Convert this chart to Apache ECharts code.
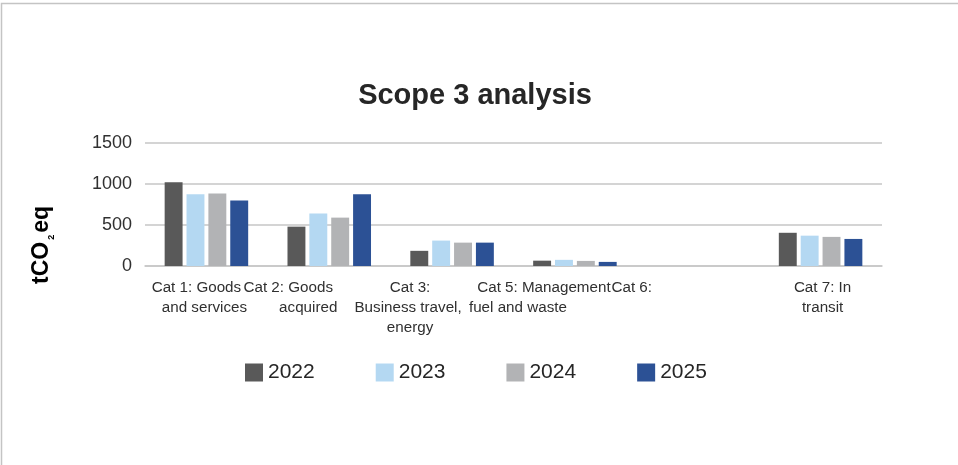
<!DOCTYPE html>
<html>
<head>
<meta charset="utf-8">
<style>html,body{margin:0;padding:0;background:#fff;}#c{width:958px;height:465px;}</style>
<script src="https://cdn.jsdelivr.net/npm/echarts@6/dist/echarts.min.js"></script>
</head>
<body>
<div id="c"></div>
<script>
// ---- data ----
var categories = [
  'Cat 1: Goods\nand services',
  'Cat 2: Goods\nacquired',
  'Cat 3:\nBusiness travel,\nenergy',
  'Cat 5: Management\nfuel and waste',
  'Cat 6:',
  'Cat 7: In\ntransit'
];
var seriesNames = ['2022', '2023', '2024', '2025'];
var v2022 = [1020, 480, 185, 65, 0, 405];
var v2023 = [875, 640, 310, 75, 0, 370];
var v2024 = [885, 590, 285, 62, 0, 355];
var v2025 = [800, 875, 285, 50, 0, 330];
var yTicks = [0, 500, 1000, 1500];

// ---- style ----
var colors = ['#595959', '#b4d8f2', '#b2b3b5', '#2c5195'];
var labelShift = [[-10, -2], [-41, -21], [-42, -44, -42], [-31, -57], [-66], [2, 2]];
var FONT = "'Liberation Sans', Arial, sans-serif";

var rich = {};
categories.forEach(function (c, i) {
  c.split('\n').forEach(function (t, j) {
    var s = labelShift[i][j] || 0;
    rich['l' + i + '_' + j] = {
      fontSize: 15.2, lineHeight: 20, color: '#303030', fontFamily: FONT,
      padding: s < 0 ? [0, -2 * s, 0, 0] : [0, 0, 0, 2 * s]
    };
  });
});

var allValues = [v2022, v2023, v2024, v2025];
var chart = echarts.init(document.getElementById('c'), null, {renderer: 'canvas'});
chart.setOption({
  animation: false,
  backgroundColor: '#ffffff',
  title: {
    text: 'Scope 3 analysis',
    left: 470, top: 76, textAlign: 'center',
    textStyle: {fontSize: 29, fontWeight: 'bold', color: '#262626', fontFamily: FONT}
  },
  legend: {
    data: seriesNames,
    left: 240, top: 357,
    itemWidth: 18, itemHeight: 18, itemGap: 61,
    icon: 'rect',
    textStyle: {fontSize: 21, color: '#262626', fontFamily: FONT}
  },
  grid: {left: 145, right: 76, top: 143, bottom: 199, containLabel: false},
  xAxis: {
    type: 'category',
    data: categories,
    axisTick: {show: false},
    axisLine: {lineStyle: {color: '#c6c6c6', width: 1.5}},
    axisLabel: {
      interval: 0, margin: 12, hideOverlap: false,
      formatter: function (value, index) {
        return value.split('\n').map(function (t, j) { return '{l' + index + '_' + j + '|' + t + '}'; }).join('\n');
      },
      rich: rich
    }
  },
  yAxis: {
    type: 'value',
    min: yTicks[0], max: yTicks[yTicks.length - 1], interval: yTicks[1] - yTicks[0],
    axisLine: {show: false},
    axisTick: {show: false},
    splitLine: {lineStyle: {color: '#c6c6c6', width: 1.5}},
    axisLabel: {fontSize: 18, color: '#303030', margin: 13, fontFamily: FONT,
      formatter: function (v) { return String(v); }}
  },
  graphic: [
    {
      type: 'rect', silent: true,
      shape: {x: 1.5, y: 3.5, width: 1200, height: 1000},
      style: {fill: null, stroke: '#c4c4c4', lineWidth: 1.5}
    },
    {
      type: 'text', silent: true,
      x: 42, y: 245, rotation: Math.PI / 2,
      style: {
        text: '{a|tCO}{s|2}{a|eq}',
        align: 'center', verticalAlign: 'middle',
        rich: {
          a: {fontSize: 23, fontWeight: 'bold', color: '#262626', fontFamily: FONT, lineHeight: 28},
          s: {fontSize: 9, fontWeight: 'bold', color: '#262626', fontFamily: FONT, verticalAlign: 'bottom', padding: [0, 2, 0, 2]}
        }
      }
    }
  ],
  series: seriesNames.map(function (n, k) {
    return {
      name: n, type: 'bar',
      data: allValues[k],
      barGap: '22%', barCategoryGap: '32%',
      itemStyle: {color: colors[k]}
    };
  })
});
</script>
</body>
</html>
